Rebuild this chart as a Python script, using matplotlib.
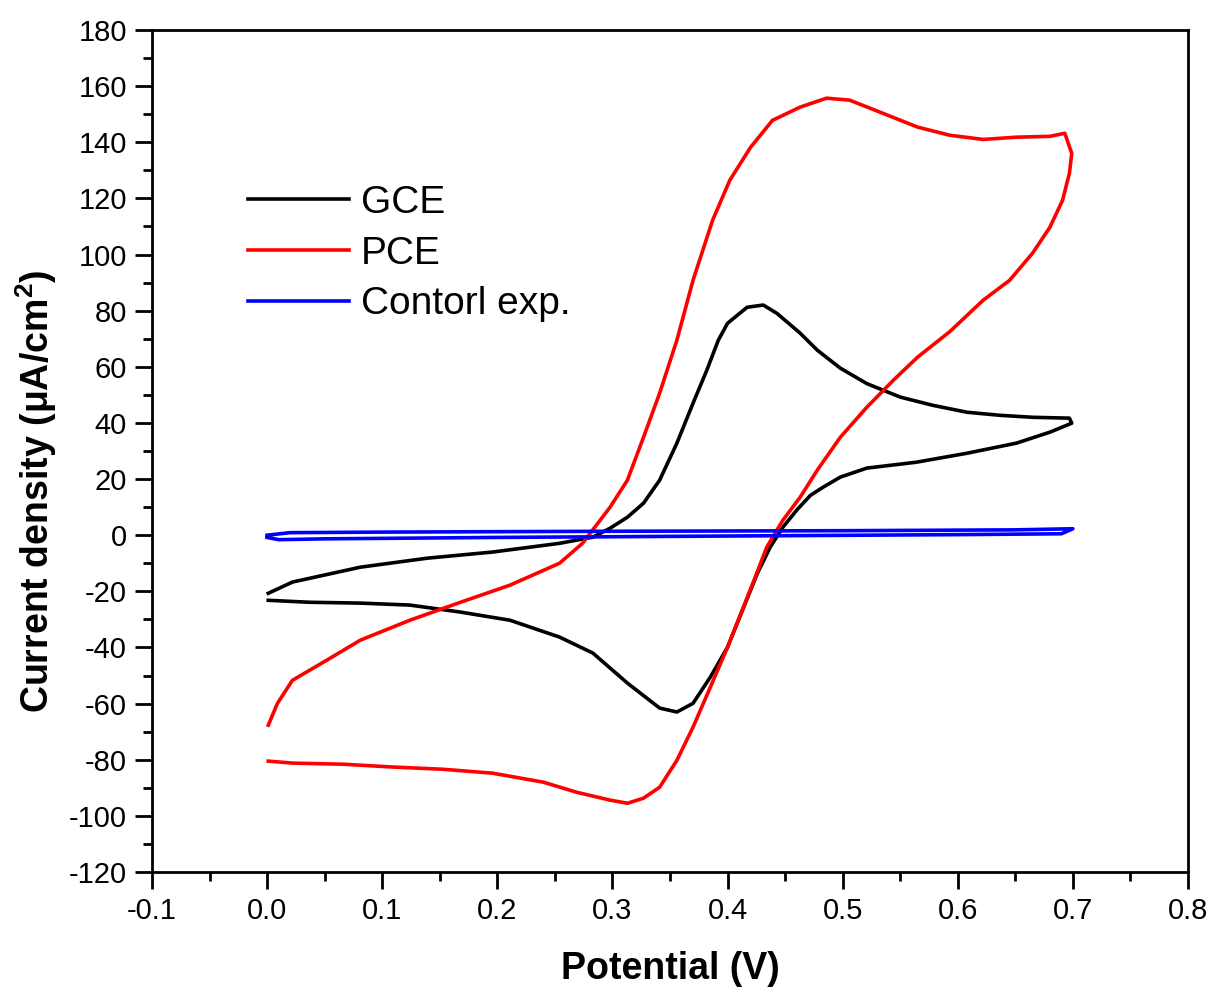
import numpy as np
import matplotlib
matplotlib.use('Agg')
import matplotlib.pyplot as plt

# GCE cyclic voltammogram (anodic sweep, then cathodic sweep)
gce_fwd_x = [0.001, 0.022, 0.081, 0.139, 0.196, 0.254, 0.283, 0.298, 0.313, 0.327, 0.341, 0.356,
             0.370, 0.382, 0.392, 0.400, 0.417, 0.431, 0.443, 0.463, 0.478, 0.498, 0.521, 0.550,
             0.578, 0.608, 0.637, 0.665, 0.697]
gce_fwd_y = [-20.7, -16.7, -11.4, -8.2, -6.0, -2.9, -0.7, 2.5, 6.4, 11.4, 19.6, 32.8,
             47.0, 58.8, 69.5, 75.5, 81.2, 82.0, 79.0, 72.0, 65.9, 59.5, 54.0, 49.2,
             46.3, 43.8, 42.7, 42.0, 41.7]
gce_rev_x = [0.699, 0.680, 0.651, 0.608, 0.564, 0.521, 0.498, 0.483, 0.472, 0.460, 0.448, 0.437,
             0.426, 0.413, 0.400, 0.385, 0.370, 0.356, 0.341, 0.313, 0.283, 0.254, 0.211, 0.168,
             0.124, 0.081, 0.037, 0.001]
gce_rev_y = [39.9, 36.7, 32.8, 29.2, 26.0, 23.9, 20.7, 17.1, 14.2, 8.9, 2.8, -4.3,
             -13.5, -26.7, -39.9, -50.6, -59.9, -63.0, -61.6, -52.7, -42.0, -36.3, -30.3, -27.4,
             -24.9, -24.2, -23.9, -23.2]

# PCE
pce_fwd_x = [0.001, 0.009, 0.022, 0.052, 0.081, 0.124, 0.168, 0.211, 0.254, 0.274, 0.298, 0.313,
             0.327, 0.341, 0.356, 0.370, 0.387, 0.402, 0.420, 0.439, 0.463, 0.486, 0.506, 0.535,
             0.565, 0.593, 0.622, 0.651, 0.680, 0.693]
pce_fwd_y = [-67.7, -59.9, -51.7, -44.5, -37.4, -30.3, -23.9, -17.8, -10.0, -2.9, 10.0, 19.6,
             34.9, 50.6, 69.5, 90.8, 112.2, 126.5, 138.2, 147.8, 152.5, 155.7, 155.0, 150.3,
             145.4, 142.5, 141.0, 141.8, 142.1, 143.2]
pce_rev_x = [0.699, 0.697, 0.691, 0.680, 0.665, 0.645, 0.622, 0.593, 0.565, 0.544, 0.521, 0.498,
             0.478, 0.463, 0.448, 0.434, 0.424, 0.400, 0.385, 0.370, 0.356, 0.341, 0.327, 0.313,
             0.298, 0.269, 0.240, 0.196, 0.153, 0.109, 0.066, 0.022, 0.001]
pce_rev_y = [136.0, 129.0, 119.3, 109.7, 100.5, 90.8, 83.7, 72.5, 63.4, 55.2, 45.6, 34.9,
             23.2, 13.5, 5.3, -4.3, -15.0, -39.9, -54.2, -68.4, -80.2, -89.8, -93.7, -95.5,
             -94.4, -91.6, -88.0, -84.8, -83.4, -82.6, -81.6, -81.2, -80.5]

# control experiment (bare electrolyte)
ctl_fwd_x = [0.0, 0.02, 0.1, 0.3, 0.5, 0.65, 0.7]
ctl_fwd_y = [0.0, 0.9, 1.1, 1.4, 1.6, 1.9, 2.3]
ctl_rev_x = [0.7, 0.69, 0.6, 0.4, 0.2, 0.05, 0.01, 0.0]
ctl_rev_y = [2.3, 0.5, 0.2, -0.3, -0.8, -1.3, -1.6, -0.8]

labels = ['GCE', 'PCE', 'Contorl exp.']
colors = ['black', 'red', 'blue']

plt.rcParams['font.family'] = ['Liberation Sans', 'DejaVu Sans']
plt.rcParams['mathtext.fontset'] = 'custom'
plt.rcParams['mathtext.rm'] = 'Liberation Sans'
plt.rcParams['mathtext.bf'] = 'Liberation Sans:bold'
plt.rcParams['axes.unicode_minus'] = False

fig = plt.figure(figsize=(12.13, 9.89), dpi=100)
ax = fig.add_axes([0.1253, 0.1183, 0.8541, 0.8514])

curves = [(gce_fwd_x + gce_rev_x, gce_fwd_y + gce_rev_y),
          (pce_fwd_x + pce_rev_x, pce_fwd_y + pce_rev_y),
          (ctl_fwd_x + ctl_rev_x, ctl_fwd_y + ctl_rev_y)]
for (x, y), lab, c in zip(curves, labels, colors):
    ax.plot(x, y, color=c, lw=2.6, label=lab, solid_joinstyle='round')

ax.set_xlim(-0.1, 0.8)
ax.set_ylim(-120, 180)
ax.set_xticks(np.arange(-0.1, 0.81, 0.1))
ax.set_xticklabels(['-0.1', '0.0', '0.1', '0.2', '0.3', '0.4', '0.5', '0.6', '0.7', '0.8'])
ax.set_yticks(np.arange(-120, 181, 20))
ax.set_xticks(np.arange(-0.05, 0.8, 0.1), minor=True)
ax.set_yticks(np.arange(-110, 180, 20), minor=True)

for s in ax.spines.values():
    s.set_linewidth(2)
ax.tick_params(which='major', direction='out', length=12, width=2, labelsize=21, pad=6)
ax.tick_params(which='minor', direction='out', length=6.5, width=2)
ax.tick_params(top=False, right=False)

ax.set_xlabel('Potential (V)', fontsize=27, fontweight='bold', labelpad=19)
ax.set_ylabel('Current density (μA/cm$^{\\mathbf{2}}$)', fontsize=27, fontweight='bold')
ax.yaxis.set_label_coords(-0.09, 0.452)

leg = ax.legend(loc='upper left', bbox_to_anchor=(0.093, 0.816), frameon=False, fontsize=28,
                handlelength=2.6, handletextpad=0.3, labelspacing=0.38, borderpad=0, borderaxespad=0)

plt.savefig('out.png', dpi=100)
